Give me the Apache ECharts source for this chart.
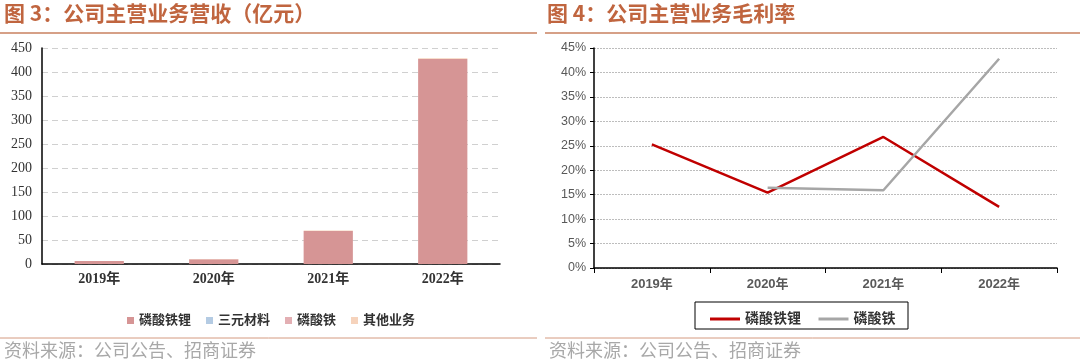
<!DOCTYPE html>
<html><head><meta charset="utf-8">
<script src="https://cdn.jsdelivr.net/npm/echarts@6/dist/echarts.min.js"></script>
<style>html,body{margin:0;padding:0;background:#fff}#c{width:1080px;height:364px}</style>
</head><body><div id="c"></div>
<script>
// ---- data ----
const years = ['2019年','2020年','2021年','2022年'];
const revLFP = [6, 10, 69, 427];        // 磷酸铁锂 (亿元)
const revNCM = [0, 0, 0, 0];            // 三元材料
const revFP = [0, 0, 0, 0];             // 磷酸铁
const revOther = [0.5, 0.5, 1, 1.5];    // 其他业务
const revTicks = [0, 50, 100, 150, 200, 250, 300, 350, 400, 450];
const gmLFP = [0.253, 0.154, 0.268, 0.125]; // 磷酸铁锂毛利率
const gmFP = [null, 0.164, 0.159, 0.428];   // 磷酸铁毛利率

const chart = echarts.init(document.getElementById('c'));
const serif = 'Liberation Serif, "Noto Sans CJK SC", serif';
const sans = 'Liberation Sans, "Noto Sans CJK SC", sans-serif';
const titleColor = '#C0653F';

chart.setOption({
  animation: false,
  graphic: [
    {type:'text', left: 4, top: 3, style:{text:'图 3：公司主营业务营收（亿元）', font:'bold 21px "Noto Sans CJK SC"', fill:titleColor}},
    {type:'text', left: 547, top: 3, style:{text:'图 4：公司主营业务毛利率', font:'bold 21px "Noto Sans CJK SC"', fill:titleColor}},
    {type:'line', shape:{x1:0,y1:33,x2:537,y2:33}, style:{stroke:'#C9805F', lineWidth:1.5}},
    {type:'line', shape:{x1:545,y1:33,x2:1080,y2:33}, style:{stroke:'#C9805F', lineWidth:1.5}},
    {type:'line', shape:{x1:0,y1:338,x2:537,y2:338}, style:{stroke:'#D49A80', lineWidth:1}},
    {type:'line', shape:{x1:545,y1:338,x2:1080,y2:338}, style:{stroke:'#D49A80', lineWidth:1}},
    {type:'text', left: 4, top: 341, style:{text:'资料来源：公司公告、招商证券', font:'18px "Noto Sans CJK SC"', fill:'#A8A8A8'}},
    {type:'text', left: 549, top: 341, style:{text:'资料来源：公司公告、招商证券', font:'18px "Noto Sans CJK SC"', fill:'#A8A8A8'}},
    {type:'rect', shape:{x:695, y:302, width:213, height:27}, style:{fill:'none', stroke:'#000', lineWidth:1}}
  ],
  legend: [
    {
      data: ['磷酸铁锂','三元材料','磷酸铁','其他业务'],
      left: 122, top: 309,
      itemWidth: 7, itemHeight: 7, itemGap: 15,
      icon: 'rect',
      textStyle: {fontFamily: serif, fontSize: 13, fontWeight: 'bold', color: '#333'}
    },
    {
      data: [{name:'磷酸铁锂 '}, {name:'磷酸铁 '}],
      left: 705, top: 307,
      itemWidth: 30, itemHeight: 3, itemGap: 14,
      icon: 'rect',
      textStyle: {fontFamily: serif, fontSize: 14, fontWeight: 'bold', color: '#333'}
    }
  ],
  grid: [
    {left: 42, top: 48, width: 458, height: 216},
    {left: 594, top: 48, width: 463, height: 220}
  ],
  xAxis: [
    {type:'category', gridIndex:0, data: years,
     axisLine:{lineStyle:{color:'#000', width:1.5}}, axisTick:{show:false},
     axisLabel:{fontFamily: serif, fontSize: 14, fontWeight:'bold', color:'#333', margin: 8}},
    {type:'category', gridIndex:1, data: years,
     axisLine:{lineStyle:{color:'#000', width:1.5}}, axisTick:{show:true, length:5, lineStyle:{color:'#000'}},
     axisLabel:{fontFamily: sans, fontSize: 13, fontWeight:'bold', color:'#595959', margin: 10}}
  ],
  yAxis: [
    {type:'value', gridIndex:0, min: revTicks[0], max: revTicks[revTicks.length-1], interval: 50,
     axisLine:{show:true, lineStyle:{color:'#000', width:1.5}}, axisTick:{show:false},
     splitLine:{lineStyle:{color:'#D0D0D0', type:[6,4]}},
     axisLabel:{fontFamily: serif, fontSize: 14, color:'#333', margin: 10}},
    {type:'value', gridIndex:1, min: 0, max: 0.45, interval: 0.05,
     axisLine:{show:true, lineStyle:{color:'#000', width:1.5}}, axisTick:{show:true, length:4, lineStyle:{color:'#000'}},
     splitLine:{lineStyle:{color:'#BDBDBD', type:[2,1]}},
     axisLabel:{fontFamily: sans, fontSize: 12.5, color:'#595959', margin: 8,
       formatter: v => Math.round(v*100) + '%'}}
  ],
  series: [
    {name:'磷酸铁锂', type:'bar', stack:'rev', xAxisIndex:0, yAxisIndex:0, data: revLFP, barWidth: '43%',
     itemStyle:{color:'#D69595'}},
    {name:'三元材料', type:'bar', stack:'rev', xAxisIndex:0, yAxisIndex:0, data: revNCM, itemStyle:{color:'#B4CBE3'}},
    {name:'磷酸铁', type:'bar', stack:'rev', xAxisIndex:0, yAxisIndex:0, data: revFP, itemStyle:{color:'#E3AFB3'}},
    {name:'其他业务', type:'bar', stack:'rev', xAxisIndex:0, yAxisIndex:0, data: revOther, itemStyle:{color:'#F6D3BC'}},
    {name:'磷酸铁锂 ', type:'line', xAxisIndex:1, yAxisIndex:1, data: gmLFP, symbol:'none',
     lineStyle:{color:'#C00000', width:2.5}, itemStyle:{color:'#C00000'}},
    {name:'磷酸铁 ', type:'line', xAxisIndex:1, yAxisIndex:1, data: gmFP, symbol:'none',
     lineStyle:{color:'#A6A6A6', width:2.5}, itemStyle:{color:'#A6A6A6'}}
  ]
});
</script></body></html>
